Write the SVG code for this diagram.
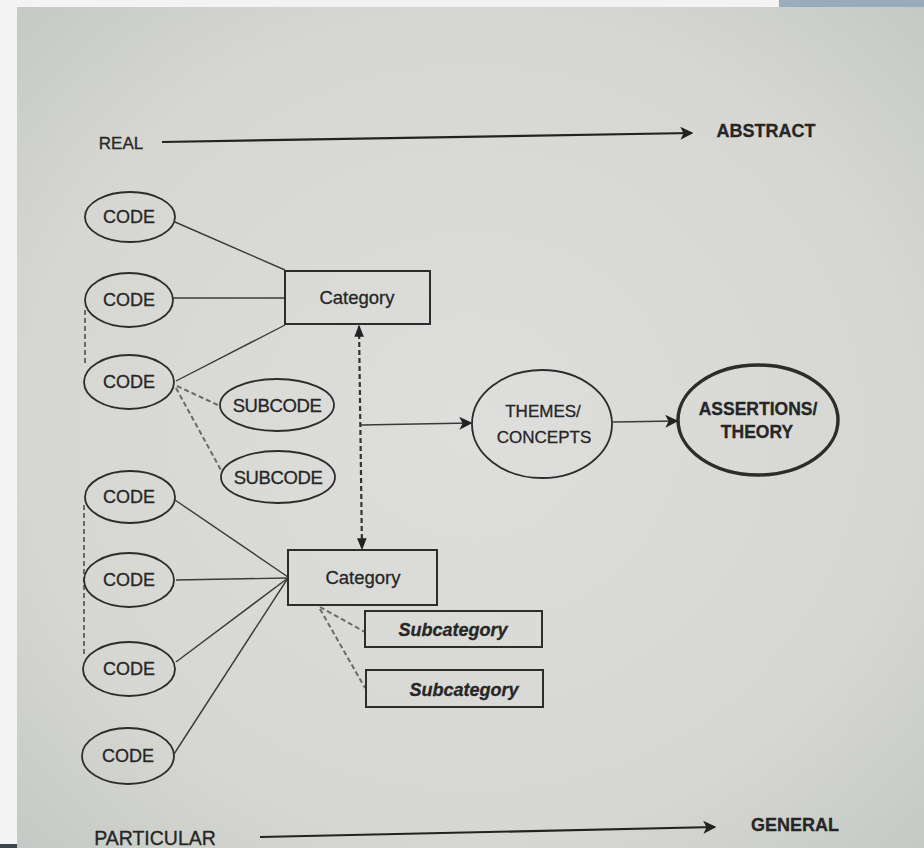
<svg xmlns="http://www.w3.org/2000/svg" width="924" height="848" viewBox="0 0 924 848">
<defs>
<radialGradient id="pg" cx="0.5" cy="0.5" r="0.7">
<stop offset="0" stop-color="#dededc"/>
<stop offset="0.7" stop-color="#d6d7d3"/>
<stop offset="1" stop-color="#c6c9c5"/>
</radialGradient>
<marker id="ah" viewBox="0 0 10 10" refX="9" refY="5" markerWidth="12" markerHeight="12" markerUnits="userSpaceOnUse" orient="auto-start-reverse">
<path d="M0,1 L10,5 L0,9 z" fill="#222"/>
</marker>
<marker id="ahb" viewBox="0 0 10 10" refX="9" refY="5" markerWidth="13" markerHeight="13" markerUnits="userSpaceOnUse" orient="auto-start-reverse">
<path d="M0,0 L10,5 L0,10 L2.5,5 z" fill="#222"/>
</marker>
</defs>
<style>
text{font-family:"Liberation Sans",Arial,sans-serif;fill:#262626;stroke:#262626;stroke-width:0.3;text-anchor:middle}
.node ellipse{fill:none;stroke:#2c2c2c;stroke-width:1.8}
.node rect{fill:none;stroke:#2c2c2c;stroke-width:2}
.code{font-size:18px}
.sub{font-size:18.5px;letter-spacing:-0.4px}
.cat{font-size:18.5px}
.subcat{font-size:18px;font-weight:bold;font-style:italic}
.solid{stroke:#3a3a3a;stroke-width:1.4;fill:none}
.dash{stroke:#6a6a6a;stroke-width:2;stroke-dasharray:5,3;fill:none}
.axis{stroke:#222;stroke-width:2.2;fill:none}
</style>
<rect width="924" height="848" fill="#f3f3f3"/>
<rect x="17" y="7" width="907" height="841" fill="url(#pg)"/>
<rect x="779" y="0" width="145" height="7" fill="#9aabbd"/>
<rect x="0" y="844" width="17" height="4" fill="#3a4550"/>

<g id="connectors">
<path class="axis" d="M162,142 L692,133" marker-end="url(#ahb)"/>
<path class="axis" d="M260,837 L715,827" marker-end="url(#ahb)"/>
<path class="solid" d="M175,222 L285,270"/>
<path class="solid" d="M173,298 L285,298"/>
<path class="solid" d="M176,381 L285,325"/>
<path class="dash" d="M177,386 L220,406"/>
<path class="dash" d="M176,388 L222,472"/>
<path class="dash" d="M85,310 L85,364"/>
<path class="dash" d="M84,505 L84,657"/>
<path class="solid" d="M175,500 L288,577"/>
<path class="solid" d="M176,580 L288,578"/>
<path class="solid" d="M176,662 L288,578"/>
<path class="solid" d="M174,754 L288,578"/>
<path class="dash" d="M320,607 L365,632"/>
<path class="dash" d="M320,609 L365,688"/>
<path d="M359,326 L362,549" stroke="#333" stroke-width="2.2" stroke-dasharray="5,3" fill="none" marker-start="url(#ah)" marker-end="url(#ah)"/>
<path class="solid" d="M361,425 L471,423" stroke-width="1.8" marker-end="url(#ahb)"/>
<path class="solid" d="M613,422 L677,421" stroke-width="1.8" marker-end="url(#ahb)"/>
</g>

<g id="axis-labels">
<text x="121" y="149" style="font-size:17px">REAL</text>
<text x="766" y="137" style="font-size:18px;font-weight:bold">ABSTRACT</text>
<text x="155" y="845" style="font-size:19.5px">PARTICULAR</text>
<text x="795" y="831" style="font-size:18px;font-weight:bold">GENERAL</text>
</g>

<g id="code1" class="node"><ellipse cx="130" cy="217" rx="45" ry="25"/><text class="code" x="129" y="223">CODE</text></g>
<g id="code2" class="node"><ellipse cx="129" cy="300" rx="44" ry="27"/><text class="code" x="129" y="306">CODE</text></g>
<g id="code3" class="node"><ellipse cx="129" cy="382" rx="45" ry="27"/><text class="code" x="129" y="388">CODE</text></g>
<g id="subcode1" class="node"><ellipse cx="277" cy="405" rx="57" ry="26"/><text class="sub" x="277" y="412">SUBCODE</text></g>
<g id="subcode2" class="node"><ellipse cx="278" cy="477" rx="57" ry="26"/><text class="sub" x="278" y="484">SUBCODE</text></g>
<g id="category1" class="node"><rect x="285" y="271" width="145" height="53"/><text class="cat" x="357" y="304">Category</text></g>

<g id="code4" class="node"><ellipse cx="130" cy="497" rx="45" ry="26"/><text class="code" x="129" y="503">CODE</text></g>
<g id="code5" class="node"><ellipse cx="129" cy="580" rx="45" ry="27"/><text class="code" x="129" y="586">CODE</text></g>
<g id="code6" class="node"><ellipse cx="129" cy="669" rx="46" ry="27"/><text class="code" x="129" y="675">CODE</text></g>
<g id="code7" class="node"><ellipse cx="128" cy="756" rx="46" ry="28"/><text class="code" x="128" y="762">CODE</text></g>
<g id="category2" class="node"><rect x="288" y="550" width="149" height="55"/><text class="cat" x="363" y="584">Category</text></g>
<g id="subcategory1" class="node"><rect x="365" y="611" width="177" height="36"/><text class="subcat" x="453" y="636">Subcategory</text></g>
<g id="subcategory2" class="node"><rect x="366" y="670" width="177" height="37"/><text class="subcat" x="464" y="696">Subcategory</text></g>

<g id="themes" class="node"><ellipse cx="542" cy="424" rx="70" ry="54"/><text x="543" y="417" style="font-size:17px">THEMES/</text><text x="544" y="443" style="font-size:17px">CONCEPTS</text></g>
<g id="assertions" class="node"><ellipse cx="758" cy="420" rx="80" ry="55" style="stroke-width:3.5"/><text x="758" y="415" style="font-size:17.5px;font-weight:bold">ASSERTIONS/</text><text x="757" y="438" style="font-size:17.5px;font-weight:bold">THEORY</text></g>
</svg>
